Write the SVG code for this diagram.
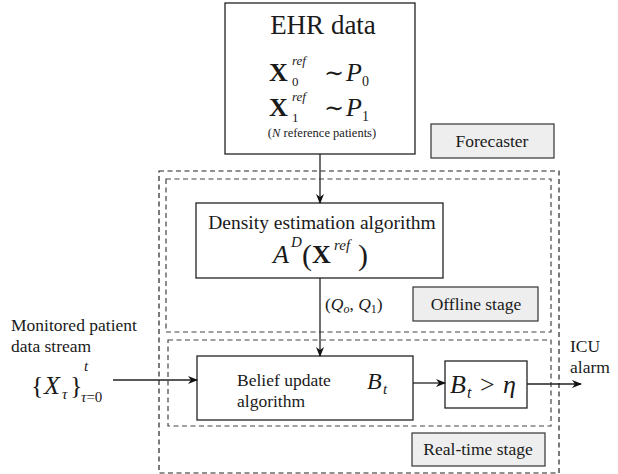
<svg xmlns="http://www.w3.org/2000/svg" width="618" height="474" viewBox="0 0 618 474" font-family="'Liberation Serif', 'Times New Roman', 'DejaVu Serif', serif">
<style>
text{font-family:'Liberation Serif','Times New Roman','DejaVu Serif',serif;fill:#1a1a1a}
.box{fill:#fff;stroke:#222;stroke-width:1.3}
.tag{fill:#eeeeee;stroke:#333;stroke-width:1.2}
.dash{fill:none;stroke:#222;stroke-width:1.2;stroke-dasharray:5 3.5}
.dash2{fill:none;stroke:#444;stroke-width:1.2;stroke-dasharray:5 3.5}
.line{fill:none;stroke:#222;stroke-width:1.3}
.lbl{font-size:17.5px}
.it{font-style:italic}
.bf{font-weight:bold}
.c{text-anchor:middle}
</style>
<defs>
<marker id="ah" viewBox="0 0 10 10" refX="9" refY="5" markerWidth="10" markerHeight="10" markerUnits="userSpaceOnUse" orient="auto">
<path d="M0,1 L10,5 L0,9 L3,5 Z" fill="#111"/>
</marker>
</defs>

<g id="outer-forecaster">
<rect class="dash" x="159" y="171" width="400" height="302"/>
</g>
<g id="offline-stage">
<rect class="dash2" x="166" y="179" width="385" height="153"/>
</g>
<g id="realtime-stage">
<rect class="dash2" x="168" y="340" width="383" height="86"/>
</g>

<g id="ehr">
<rect class="box" x="225" y="3" width="190" height="151"/>
<text class="c" x="323" y="34" font-size="27">EHR data</text>
<text x="269" y="81" font-size="26" class="bf">X</text>
<text x="292" y="65" font-size="13" class="it">ref</text>
<text x="292" y="86" font-size="13">0</text>
<text x="324" y="81" font-size="24">∼</text>
<text x="346" y="81" font-size="26" class="it">P</text>
<text x="362" y="86" font-size="14">0</text>
<text x="269" y="116" font-size="26" class="bf">X</text>
<text x="292" y="101" font-size="13" class="it">ref</text>
<text x="292" y="122" font-size="13">1</text>
<text x="324" y="116" font-size="24">∼</text>
<text x="346" y="116" font-size="26" class="it">P</text>
<text x="362" y="121" font-size="14">1</text>
<text class="c" x="322" y="137" font-size="12.5">(<tspan class="it">N</tspan> reference patients)</text>
</g>

<g id="forecaster-label">
<rect class="tag" x="431" y="124" width="123" height="34"/>
<text class="c lbl" x="492" y="147">Forecaster</text>
</g>

<g id="density">
<rect class="box" x="196" y="203" width="247" height="75"/>
<text class="c" x="322" y="229" font-size="19.5">Density estimation algorithm</text>
<text x="273" y="263" font-size="26" class="it">A</text>
<text x="291" y="247" font-size="15" class="it">D</text>
<text x="302" y="265" font-size="30">(</text>
<text x="312" y="263" font-size="26" class="bf">X</text>
<text x="334" y="250" font-size="15" class="it">ref</text>
<text x="358" y="265" font-size="30">)</text>
</g>

<g id="offline-label">
<rect class="tag" x="413" y="287" width="125" height="34"/>
<text class="c lbl" x="476" y="310">Offline stage</text>
</g>

<g id="belief">
<rect class="box" x="197" y="356" width="216" height="64"/>
<text x="237" y="386" class="lbl">Belief update</text>
<text x="237" y="407" class="lbl">algorithm</text>
<text x="367" y="389" font-size="24" class="it">B</text>
<text x="383" y="394" font-size="15" class="it">t</text>
</g>

<g id="threshold">
<rect class="box" x="445" y="361" width="82" height="47"/>
<text x="450" y="393" font-size="26" class="it">B</text>
<text x="467" y="398" font-size="16" class="it">t</text>
<text x="480" y="393" font-size="26">&gt;</text>
<text x="503" y="393" font-size="26" class="it">η</text>
</g>

<g id="realtime-label">
<rect class="tag" x="412" y="433" width="133" height="33"/>
<text class="c lbl" x="478" y="455">Real-time stage</text>
</g>

<g id="input-label">
<text x="11" y="331" class="lbl">Monitored patient</text>
<text x="11" y="352" class="lbl">data stream</text>
<text x="31" y="394" font-size="26">{</text>
<text x="44" y="394" font-size="26" class="it">X</text>
<text x="62" y="399" font-size="15" class="it">τ</text>
<text x="70" y="394" font-size="26">}</text>
<text x="84" y="371" font-size="15" class="it">t</text>
<text x="81" y="402" font-size="15"><tspan class="it">τ</tspan>=0</text>
</g>

<g id="output-label">
<text x="570" y="352" class="lbl">ICU</text>
<text x="570" y="373" class="lbl">alarm</text>
</g>

<g id="connectors">
<line class="line" x1="320" y1="154" x2="320" y2="203" marker-end="url(#ah)"/>
<line class="line" x1="320" y1="278" x2="320" y2="356" marker-end="url(#ah)"/>
<text x="325" y="310" class="lbl">(<tspan class="it">Q</tspan><tspan font-size="12" class="it" dy="3">o</tspan><tspan dy="-3">,</tspan> <tspan class="it">Q</tspan><tspan font-size="12" dy="3">1</tspan><tspan dy="-3">)</tspan></text>
<line class="line" x1="113" y1="380" x2="197" y2="380" marker-end="url(#ah)"/>
<line class="line" x1="413" y1="383" x2="445" y2="383" marker-end="url(#ah)"/>
<line class="line" x1="527" y1="384" x2="581" y2="384" marker-end="url(#ah)"/>
</g>
</svg>
